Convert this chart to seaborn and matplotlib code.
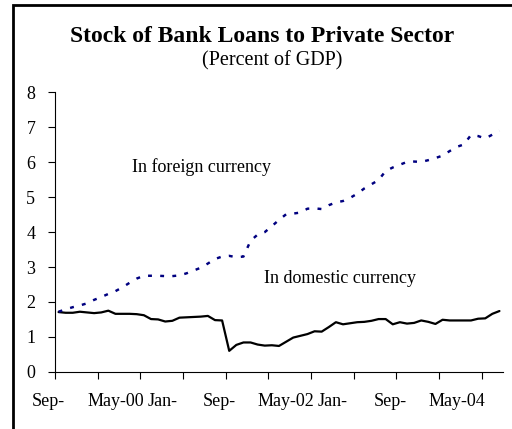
import numpy as np
import pandas as pd
import matplotlib
matplotlib.use("Agg")
import matplotlib.pyplot as plt
import matplotlib.transforms as mtransforms
from matplotlib.patches import Rectangle
import seaborn as sns

# ---- data (monthly, Sep-1999 .. Nov-2004), percent of GDP ----
domestic = [1.71, 1.69, 1.69, 1.72, 1.70, 1.68, 1.70, 1.75, 1.66, 1.66,
            1.66, 1.65, 1.62, 1.51, 1.50, 1.44, 1.46, 1.55, 1.56, 1.57,
            1.58, 1.60, 1.48, 1.47, 0.60, 0.77, 0.84, 0.84, 0.78, 0.75,
            0.76, 0.74, 0.86, 0.98, 1.03, 1.08, 1.16, 1.15, 1.28, 1.42,
            1.36, 1.39, 1.42, 1.43, 1.46, 1.51, 1.51, 1.36, 1.42, 1.38,
            1.40, 1.47, 1.43, 1.37, 1.49, 1.47, 1.47, 1.47, 1.47, 1.52,
            1.53, 1.66, 1.74]
foreign = [1.72, 1.79, 1.85, 1.90, 1.96, 2.06, 2.14, 2.23, 2.31, 2.42,
           2.55, 2.67, 2.75, 2.75, 2.75, 2.74, 2.74, 2.76, 2.82, 2.90,
           2.98, 3.10, 3.23, 3.30, 3.32, 3.28, 3.30, 3.75, 3.93, 4.00,
           4.17, 4.35, 4.51, 4.53, 4.56, 4.67, 4.68, 4.66, 4.77, 4.85,
           4.89, 4.98, 5.10, 5.25, 5.37, 5.49, 5.75, 5.85, 5.93, 6.01,
           6.02, 6.01, 6.06, 6.12, 6.19, 6.32, 6.44, 6.51, 6.78, 6.75,
           6.68, 6.79, 6.90]
tick_labels = ["Sep-", "May-00", "Jan-", "Sep-", "May-02", "Jan-", "Sep-", "May-04"]
label_wrapped = [True, False, True, True, False, True, True, False]
y_ticks = [0, 1, 2, 3, 4, 5, 6, 7, 8]
title = "Stock of Bank Loans to Private Sector"
subtitle = "(Percent of GDP)"
label_foreign = "In foreign currency"
label_domestic = "In domestic currency"

df = pd.DataFrame({"month": np.arange(len(domestic)),
                   "domestic": domestic, "foreign": foreign})

sns.set_theme(style="white")
plt.rcParams["font.family"] = ["Liberation Serif", "DejaVu Serif"]

W, H = 512, 429
fig = plt.figure(figsize=(W / 100, H / 100), dpi=100)
ax = fig.add_axes([55 / W, 1 - 371.8 / H, 448 / W, (371.8 - 92.4) / H])

sns.lineplot(data=df, x="month", y="domestic", ax=ax, color="black",
             linewidth=1.6)
sns.lineplot(data=df, x="month", y="foreign", ax=ax, color="#000080",
             linewidth=1.75, linestyle=(0, (1.6, 3.4)),
             dash_capstyle="butt")

n = len(domestic)
ax.set_xlim(-0.5, n - 0.5)
ax.set_ylim(0, 8)
ax.set_xlabel("")
ax.set_ylabel("")

# major ticks every 6 months (no labels), labels every 8 months
ax.set_xticks(np.arange(-0.5, n - 1, 6))
ax.set_xticklabels([])
ax.set_xticks(np.arange(0, 8 * len(tick_labels), 8), minor=True)
ax.set_xticklabels(tick_labels, minor=True, fontsize=13)
ax.tick_params(axis="x", which="major", direction="out", length=4.7,
               width=0.8, color="black", bottom=True)
ax.tick_params(axis="x", which="minor", length=0, pad=15.5,
               labelcolor="black", bottom=True)
shift = mtransforms.ScaledTranslation(-10 / 100, 0, fig.dpi_scale_trans)
for lab, wr in zip(ax.get_xticklabels(minor=True), label_wrapped):
    if wr:
        lab.set_transform(lab.get_transform() + shift)

ax.set_yticks(y_ticks)
ax.set_yticklabels([str(v) for v in y_ticks], fontsize=13)
ax.tick_params(axis="y", direction="out", length=4.7, width=0.8,
               color="black", pad=9.5, labelcolor="black", left=True)

for s in ["top", "right"]:
    ax.spines[s].set_visible(False)
for s in ["left", "bottom"]:
    ax.spines[s].set_color("black")
    ax.spines[s].set_linewidth(0.8)
ax.set_facecolor("white")

ax.text(10.3, 5.72, label_foreign, fontsize=13, color="black",
        ha="left", va="baseline")
ax.text(28.9, 2.54, label_domestic, fontsize=13, color="black",
        ha="left", va="baseline")

fig.text(262.5 / W, 1 - 41.7 / H, title, ha="center", va="baseline",
         fontsize=17, fontweight="bold", color="black")
fig.text(272 / W, 1 - 65 / H, subtitle, ha="center", va="baseline",
         fontsize=14.5, color="black")

fig.add_artist(Rectangle((13.3 / W, -0.1), 1.2, 1 - 4.7 / H + 0.1,
                         transform=fig.transFigure, fill=False,
                         edgecolor="black", linewidth=2.0))

fig.savefig("out.png", dpi=100, facecolor="white")
